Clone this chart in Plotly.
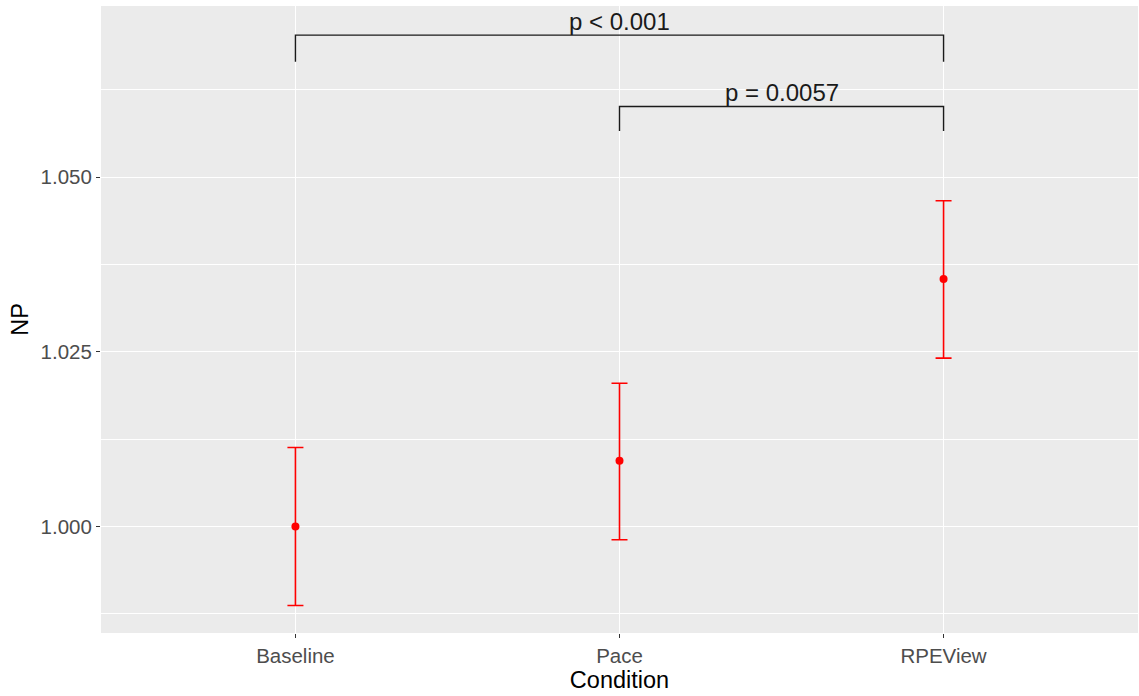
import plotly.graph_objects as go

# ---- data ----
categories = ["Baseline", "Pace", "RPEView"]
np_mean = [1.0000, 1.0094, 1.0354]
np_lower = [0.9887, 0.9981, 1.0241]
np_upper = [1.0113, 1.0205, 1.0466]

# significance brackets
bracket_start = ["Baseline", "Pace"]
bracket_end = ["RPEView", "RPEView"]
bracket_y = [1.0703, 1.0601]
bracket_tip = [1.0665, 1.0566]
bracket_labels = ["p < 0.001", "p = 0.0057"]

y_ticks = [1.000, 1.025, 1.050]
y_tick_text = ["1.000", "1.025", "1.050"]

FONT = "Liberation Sans, Arial, sans-serif"

fig = go.Figure()

err_plus = [u - m for u, m in zip(np_upper, np_mean)]
err_minus = [m - l for m, l in zip(np_mean, np_lower)]

fig.add_trace(go.Scatter(
    x=categories, y=np_mean, mode="markers",
    marker=dict(color="#FF0000", size=8),
    error_y=dict(type="data", symmetric=False, array=err_plus, arrayminus=err_minus,
                 color="#FF0000", thickness=1.6, width=8),
    showlegend=False, hoverinfo="skip",
))

for s, e, yb, yt, lab in zip(bracket_start, bracket_end, bracket_y, bracket_tip, bracket_labels):
    fig.add_trace(go.Scatter(
        x=[s, s, e, e], y=[yt, yb, yb, yt], mode="lines",
        line=dict(color="#1a1a1a", width=1.4),
        showlegend=False, hoverinfo="skip", cliponaxis=False,
    ))
    mid = (categories.index(s) + categories.index(e)) / 2
    fig.add_annotation(x=mid, y=yb, xref="x", yref="y", text=lab, showarrow=False,
                       yanchor="bottom", xanchor="center", yshift=-2,
                       font=dict(family=FONT, size=24, color="#1a1a1a"))

fig.update_layout(
    width=1139, height=696,
    margin=dict(l=101, r=1, t=6, b=63),
    paper_bgcolor="white", plot_bgcolor="#EBEBEB",
    font=dict(family=FONT),
)

fig.update_xaxes(
    type="category", categoryorder="array", categoryarray=categories,
    range=[-0.6, 2.6],
    showgrid=True, gridcolor="white", gridwidth=1.1,
    zeroline=False, showline=False,
    ticks="outside", ticklen=4, tickwidth=1, tickcolor="#333333",
    tickfont=dict(family=FONT, size=20.5, color="#4D4D4D"),
    title=dict(text="Condition", font=dict(family=FONT, size=23.5, color="black"), standoff=4),
)

fig.update_yaxes(
    range=[0.98477, 1.07447],
    tickvals=y_ticks, ticktext=y_tick_text,
    showgrid=True, gridcolor="white", gridwidth=1.1,
    minor=dict(dtick=0.025, tick0=0.0125, showgrid=True, gridcolor="white", gridwidth=0.6, ticks=""),
    zeroline=False, showline=False,
    ticks="outside", ticklen=4, tickwidth=1, tickcolor="#333333",
    tickfont=dict(family=FONT, size=20.5, color="#4D4D4D"),
    title=dict(text="NP", font=dict(family=FONT, size=23.5, color="black"), standoff=5),
)

fig.write_html("out.html", config={"displayModeBar": False},
               post_script="document.body.style.margin='0';document.body.style.padding='0';")
